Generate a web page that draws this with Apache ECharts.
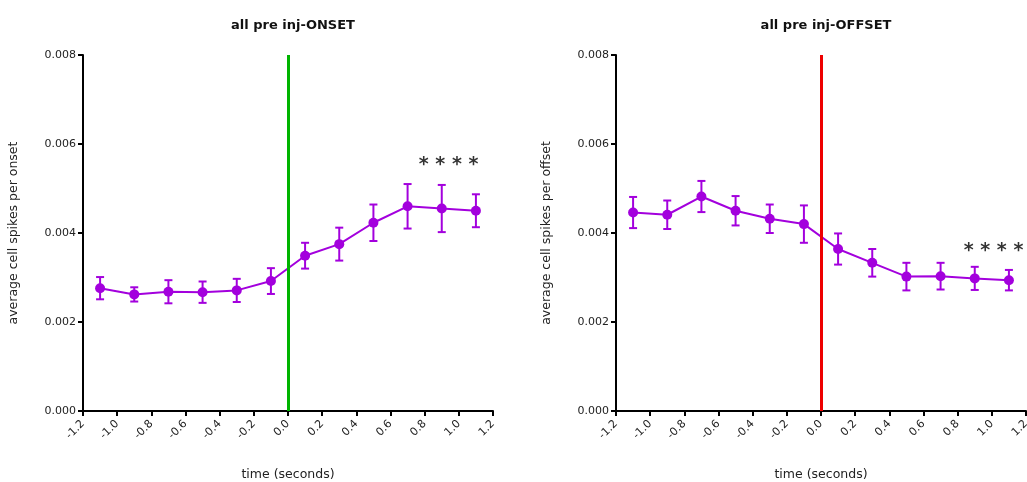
<!DOCTYPE html>
<html><head><meta charset="utf-8">
<script src="https://cdn.jsdelivr.net/npm/echarts@6/dist/echarts.min.js"></script>
<style>html,body{margin:0;padding:0;background:#fff}#c{width:1027px;height:482px}</style>
</head><body><div id="c"></div>
<script>
var times = [-1.1,-0.9,-0.7,-0.5,-0.3,-0.1,0.1,0.3,0.5,0.7,0.9,1.1];
var onsetMean = [0.00276,0.00262,0.00268,0.00267,0.00271,0.00292,0.00349,0.00375,0.00423,0.00460,0.00455,0.00450];
var onsetErr  = [0.00025,0.00016,0.00026,0.00024,0.00026,0.00029,0.00029,0.00037,0.00041,0.00050,0.00053,0.00037];
var offsetMean = [0.00446,0.00441,0.00482,0.00450,0.00432,0.00420,0.00364,0.00333,0.00302,0.00303,0.00298,0.00294];
var offsetErr  = [0.00035,0.00032,0.00035,0.00033,0.00032,0.00042,0.00035,0.00031,0.00031,0.00030,0.00026,0.00023];
var titles = ['all pre inj-ONSET','all pre inj-OFFSET'];
var yNames = ['average cell spikes per onset','average cell spikes per offset'];
var xName = 'time (seconds)';
var eventLineColors = ['#00b400','#ee0000'];
var starPos = [[0.94,0.00552],[1.01,0.00360]];
var starText = '* * * *';

var purple = '#a300dd';
var font = 'DejaVu Sans';

function pairs(m){return times.map(function(t,i){return [t,m[i]];});}
function errData(m,e){return times.map(function(t,i){return [t,m[i]-e[i],m[i]+e[i]];});}
function renderErr(params, api){
  var x = api.value(0), lo = api.coord([x, api.value(1)]), hi = api.coord([x, api.value(2)]);
  var w = 4;
  var st = {stroke: purple, lineWidth: 2, fill: null};
  return {type:'group', children:[
    {type:'line', shape:{x1:lo[0],y1:lo[1],x2:hi[0],y2:hi[1]}, style:st},
    {type:'line', shape:{x1:lo[0]-w,y1:lo[1],x2:lo[0]+w,y2:lo[1]}, style:st},
    {type:'line', shape:{x1:hi[0]-w,y1:hi[1],x2:hi[0]+w,y2:hi[1]}, style:st}
  ]};
}

var grids = [{left:83, top:55, width:410, height:356, outerBoundsMode:'none', containLabel:false},
             {left:616, top:55, width:410, height:356, outerBoundsMode:'none', containLabel:false}];
var xAxes = [], yAxes = [], series = [], titleArr = [];
[0,1].forEach(function(k){
  titleArr.push({text:titles[k], left:grids[k].left+205, top:14, textAlign:'center',
    textStyle:{fontFamily:font, fontSize:13, fontWeight:'bold', color:'#111'}});
  xAxes.push({gridIndex:k, type:'value', min:-1.2, max:1.2, interval:0.2,
    name:xName, nameLocation:'middle', nameGap:57,
    nameTextStyle:{fontFamily:font, fontSize:12.5, color:'#222'},
    axisLine:{onZero:false, lineStyle:{color:'#000', width:2}},
    axisTick:{show:true, inside:false, length:5, lineStyle:{color:'#000', width:2}},
    axisLabel:{rotate:45, margin:11, fontFamily:font, fontSize:11, color:'#222',
      formatter:function(v){return v.toFixed(1);}},
    splitLine:{show:false}});
  yAxes.push({gridIndex:k, type:'value', min:0, max:0.008, interval:0.002,
    name:yNames[k], nameLocation:'middle', nameGap:63,
    nameTextStyle:{fontFamily:font, fontSize:12.5, color:'#222'},
    axisLine:{show:true, onZero:false, lineStyle:{color:'#000', width:2}},
    axisTick:{show:true, inside:false, length:5, lineStyle:{color:'#000', width:2}},
    axisLabel:{margin:7, fontFamily:font, fontSize:11, color:'#222',
      formatter:function(v){return v.toFixed(3);}},
    splitLine:{show:false}});
  var m = k===0?onsetMean:offsetMean, e = k===0?onsetErr:offsetErr;
  series.push({type:'custom', xAxisIndex:k, yAxisIndex:k, data:errData(m,e),
    renderItem:renderErr, encode:{x:0,y:[1,2]}, z:3, silent:true});
  series.push({type:'line', xAxisIndex:k, yAxisIndex:k, data:pairs(m),
    symbol:'circle', symbolSize:10, z:4,
    lineStyle:{color:purple, width:2}, itemStyle:{color:purple},
    markLine:{silent:true, symbol:'none', label:{show:false},
      lineStyle:{color:eventLineColors[k], width:3, type:'solid'},
      data:[{xAxis:0}]}});
  series.push({type:'scatter', xAxisIndex:k, yAxisIndex:k, data:[starPos[k]],
    symbolSize:1, itemStyle:{color:'rgba(0,0,0,0)'}, silent:true,
    label:{show:true, position:'inside', formatter:starText,
      fontFamily:font, fontSize:19, fontWeight:'bold', color:'#000'}});
});

var chart = echarts.init(document.getElementById('c'), null, {renderer:'canvas'});
chart.setOption({animation:false, backgroundColor:'#fff', title:titleArr, grid:grids,
  xAxis:xAxes, yAxis:yAxes, series:series});
</script></body></html>
